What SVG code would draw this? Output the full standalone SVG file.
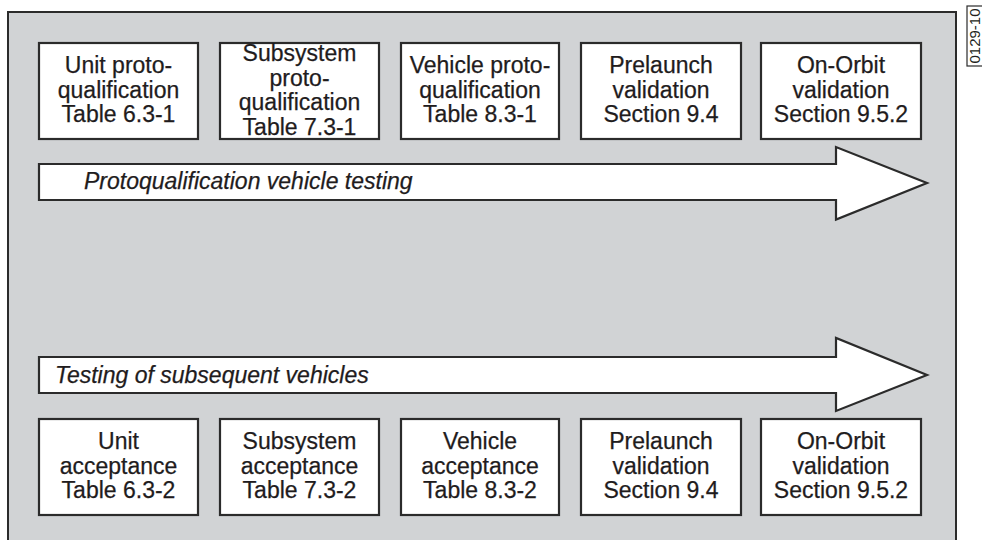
<svg xmlns="http://www.w3.org/2000/svg" width="982" height="540" viewBox="0 0 982 540">
  <style>
    .frame { fill: #d1d3d5; stroke: #2b2b2b; stroke-width: 2; }
    .box { fill: #ffffff; stroke: #2b2b2b; stroke-width: 2.2; }
    .arrow { fill: #ffffff; stroke: #2b2b2b; stroke-width: 2.2; stroke-linejoin: miter; }
    .lbl { font-family: "Liberation Sans", Arial, sans-serif; font-size: 23px; fill: #1f1c1d; stroke: #1f1c1d; stroke-width: 0.25; text-anchor: middle; }
    .band { font-family: "Liberation Sans", Arial, sans-serif; font-size: 23px; font-style: italic; fill: #1f1c1d; stroke: #1f1c1d; stroke-width: 0.25; }
    .code { font-family: "Liberation Sans", Arial, sans-serif; font-size: 15px; fill: #231f20; text-anchor: middle; }
  </style>

  <!-- background panel -->
  <rect class="frame" x="8" y="12" width="948" height="540"/>

  <!-- figure code -->
  <g id="figure-code">
    <rect x="967" y="6" width="20" height="60" fill="#ffffff" stroke="#2b2b2b" stroke-width="1.2"/>
    <text class="code" transform="translate(980,36) rotate(-90)">0129-10</text>
  </g>

  <!-- flow arrows -->
  <g id="connectors">
    <g id="arrow-proto">
      <path class="arrow" d="M39,164 H836 V147 L927,183 L836,219.5 V200 H39 Z"/>
      <text class="band" x="84" y="189">Protoqualification vehicle testing</text>
    </g>
    <g id="arrow-subsequent">
      <path class="arrow" d="M39,357 H836 V338 L927,375 L836,411 V393 H39 Z"/>
      <text class="band" x="55" y="383">Testing of subsequent vehicles</text>
    </g>
  </g>

  <!-- protoqualification row -->
  <g id="unit-proto">
    <rect class="box" x="39" y="43" width="159" height="96"/>
    <text class="lbl" x="118.5" y="73">Unit proto-</text>
    <text class="lbl" x="118.5" y="97.5">qualification</text>
    <text class="lbl" x="118.5" y="122">Table 6.3-1</text>
  </g>
  <g id="subsystem-proto">
    <rect class="box" x="220" y="43" width="159" height="96"/>
    <text class="lbl" x="299.5" y="61">Subsystem</text>
    <text class="lbl" x="299.5" y="85.5">proto-</text>
    <text class="lbl" x="299.5" y="110">qualification</text>
    <text class="lbl" x="299.5" y="134.5">Table 7.3-1</text>
  </g>
  <g id="vehicle-proto">
    <rect class="box" x="401" y="43" width="158" height="96"/>
    <text class="lbl" x="480" y="73">Vehicle proto-</text>
    <text class="lbl" x="480" y="97.5">qualification</text>
    <text class="lbl" x="480" y="122">Table 8.3-1</text>
  </g>
  <g id="prelaunch-proto">
    <rect class="box" x="581" y="43" width="160" height="96"/>
    <text class="lbl" x="661" y="73">Prelaunch</text>
    <text class="lbl" x="661" y="97.5">validation</text>
    <text class="lbl" x="661" y="122">Section 9.4</text>
  </g>
  <g id="onorbit-proto">
    <rect class="box" x="761" y="43" width="160" height="96"/>
    <text class="lbl" x="841" y="73">On-Orbit</text>
    <text class="lbl" x="841" y="97.5">validation</text>
    <text class="lbl" x="841" y="122">Section 9.5.2</text>
  </g>

  <!-- acceptance row -->
  <g id="unit-acceptance">
    <rect class="box" x="39" y="419" width="159" height="96"/>
    <text class="lbl" x="118.5" y="449">Unit</text>
    <text class="lbl" x="118.5" y="473.5">acceptance</text>
    <text class="lbl" x="118.5" y="498">Table 6.3-2</text>
  </g>
  <g id="subsystem-acceptance">
    <rect class="box" x="220" y="419" width="159" height="96"/>
    <text class="lbl" x="299.5" y="449">Subsystem</text>
    <text class="lbl" x="299.5" y="473.5">acceptance</text>
    <text class="lbl" x="299.5" y="498">Table 7.3-2</text>
  </g>
  <g id="vehicle-acceptance">
    <rect class="box" x="401" y="419" width="158" height="96"/>
    <text class="lbl" x="480" y="449">Vehicle</text>
    <text class="lbl" x="480" y="473.5">acceptance</text>
    <text class="lbl" x="480" y="498">Table 8.3-2</text>
  </g>
  <g id="prelaunch-acceptance">
    <rect class="box" x="581" y="419" width="160" height="96"/>
    <text class="lbl" x="661" y="449">Prelaunch</text>
    <text class="lbl" x="661" y="473.5">validation</text>
    <text class="lbl" x="661" y="498">Section 9.4</text>
  </g>
  <g id="onorbit-acceptance">
    <rect class="box" x="761" y="419" width="160" height="96"/>
    <text class="lbl" x="841" y="449">On-Orbit</text>
    <text class="lbl" x="841" y="473.5">validation</text>
    <text class="lbl" x="841" y="498">Section 9.5.2</text>
  </g>
</svg>
